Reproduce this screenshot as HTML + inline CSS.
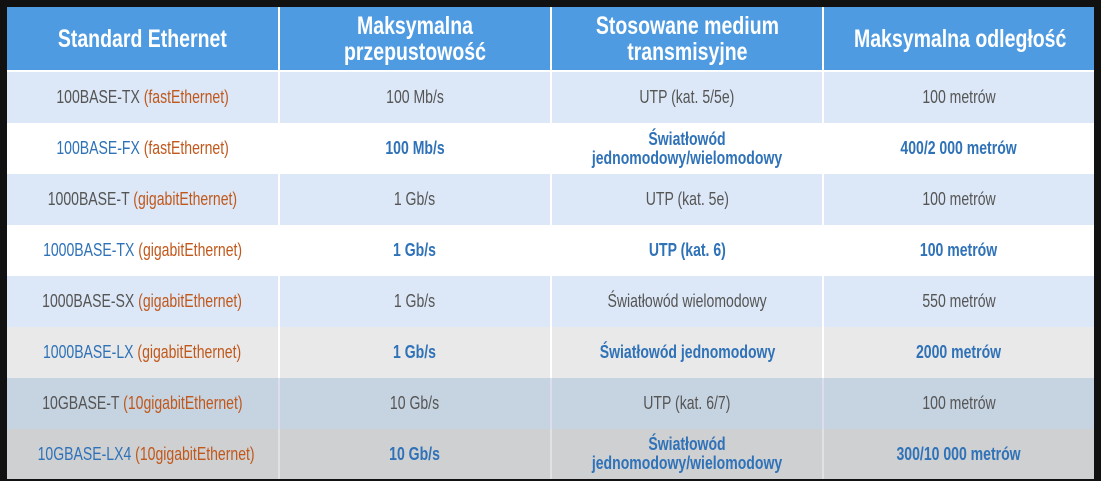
<!DOCTYPE html>
<html><head><meta charset="utf-8"><style>
body{margin:0;width:1101px;height:481px;background:#111;overflow:hidden;font-family:"Liberation Sans",sans-serif;}
table{position:absolute;left:7px;top:7px;width:1087px;border-collapse:collapse;table-layout:fixed;}
td,th{text-align:center;border-right:2px solid #fff;padding:0;line-height:19px;white-space:nowrap;overflow:visible;}
td:last-child,th:last-child{border-right:none}
td>span.s,th>span.s{display:inline-block;transform:scaleX(0.78);}
th{background:#4f9be2;color:#fff;font-size:25px;font-weight:bold;height:63px;line-height:26px;border-bottom:2px solid #fff;}
td{font-size:18px;color:#555;height:51px;}
tr.a td{background:#dce8f7}
tr.b td{background:#fff}
tr.c td{background:#e9e9e9}
tr.d td{background:#c6d3e1;border-right-color:#dde}
tr.e td{background:#cfd0d2;border-right-color:#e2e2e2;height:50px}
.bl td{color:#2f72b8;font-weight:bold}
.bl td:first-child{font-weight:normal;color:#2f72b8}
.o{color:#c0581c}
</style></head><body>
<table>
<colgroup><col style="width:272px"><col style="width:272px"><col style="width:272px"><col style="width:271px"></colgroup>
<tr><th><span class="s">Standard Ethernet</span></th><th><span class="s">Maksymalna<br>przepustowość</span></th><th><span class="s">Stosowane medium<br>transmisyjne</span></th><th><span class="s">Maksymalna odległość</span></th></tr>
<tr class="a"><td><span class="s">100BASE-TX <span class="o">(fastEthernet)</span></span></td><td><span class="s">100 Mb/s</span></td><td><span class="s">UTP (kat. 5/5e)</span></td><td><span class="s">100 metrów</span></td></tr>
<tr class="b bl"><td><span class="s">100BASE-FX <span class="o">(fastEthernet)</span></span></td><td><span class="s">100 Mb/s</span></td><td><span class="s">Światłowód<br>jednomodowy/wielomodowy</span></td><td><span class="s">400/2 000 metrów</span></td></tr>
<tr class="a"><td><span class="s">1000BASE-T <span class="o">(gigabitEthernet)</span></span></td><td><span class="s">1 Gb/s</span></td><td><span class="s">UTP (kat. 5e)</span></td><td><span class="s">100 metrów</span></td></tr>
<tr class="b bl"><td><span class="s">1000BASE-TX <span class="o">(gigabitEthernet)</span></span></td><td><span class="s">1 Gb/s</span></td><td><span class="s">UTP (kat. 6)</span></td><td><span class="s">100 metrów</span></td></tr>
<tr class="a"><td><span class="s">1000BASE-SX <span class="o">(gigabitEthernet)</span></span></td><td><span class="s">1 Gb/s</span></td><td><span class="s">Światłowód wielomodowy</span></td><td><span class="s">550 metrów</span></td></tr>
<tr class="c bl"><td><span class="s">1000BASE-LX <span class="o">(gigabitEthernet)</span></span></td><td><span class="s">1 Gb/s</span></td><td><span class="s">Światłowód jednomodowy</span></td><td><span class="s">2000 metrów</span></td></tr>
<tr class="d"><td><span class="s">10GBASE-T <span class="o">(10gigabitEthernet)</span></span></td><td><span class="s">10 Gb/s</span></td><td><span class="s">UTP (kat. 6/7)</span></td><td><span class="s">100 metrów</span></td></tr>
<tr class="e bl"><td><span class="s">10GBASE-LX4 <span class="o">(10gigabitEthernet)</span></span></td><td><span class="s">10 Gb/s</span></td><td><span class="s">Światłowód<br>jednomodowy/wielomodowy</span></td><td><span class="s">300/10 000 metrów</span></td></tr>
</table>
</body></html>
